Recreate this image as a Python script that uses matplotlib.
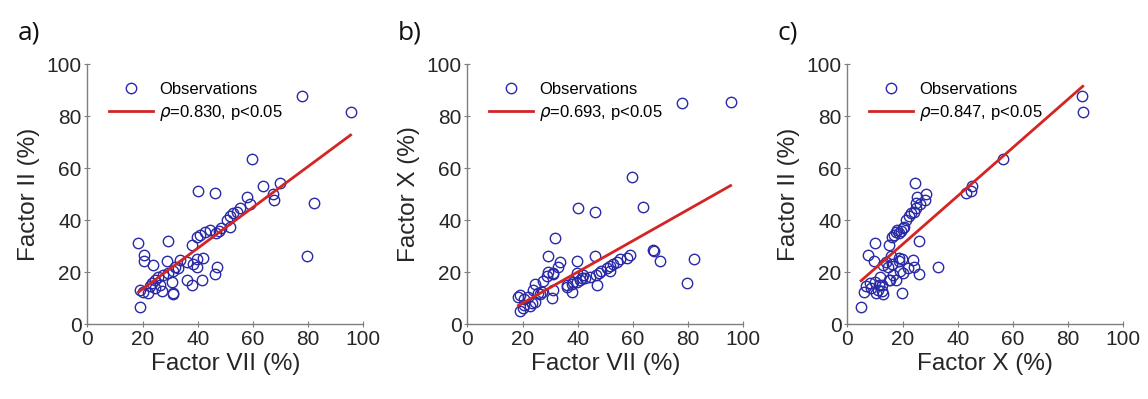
import numpy as np
import matplotlib
matplotlib.use('Agg')
import matplotlib.pyplot as plt

# clotting factor levels (%) per sample
factor_vii = [77.7, 95.4, 59.6, 40.2, 46.1, 63.8, 69.8, 67.4, 67.8, 82.2, 79.5, 57.7, 59.0, 19.1,
              55.3, 54.1, 52.9, 51.7, 50.5, 51.7, 48.5, 47.6, 46.8, 44.5, 42.7, 40.8, 39.6, 37.8,
              18.5, 19.1, 20.4, 20.4, 22.1, 23.3, 23.9, 24.5, 24.5, 25.7, 26.3, 27.0, 27.5, 28.8,
              29.3, 29.4, 30.6, 31.2, 31.2, 33.0, 33.6, 31.8, 36.0, 36.0, 37.8, 39.6, 39.6, 41.4,
              46.3, 38.4, 42.0, 46.9, 31.0, 20.0, 22.6]
factor_ii = [87.7, 81.7, 63.5, 51.3, 50.3, 53.0, 54.3, 50.0, 47.7, 46.4, 26.2, 49.0, 46.2, 6.5,
             44.5, 43.2, 42.6, 41.5, 40.0, 37.4, 36.8, 35.6, 35.0, 36.2, 35.5, 34.2, 33.3, 30.4,
             31.3, 13.1, 26.5, 24.3, 11.8, 15.6, 22.7, 16.9, 13.7, 18.2, 15.0, 12.8, 18.8, 24.3,
             19.7, 32.0, 16.3, 20.5, 11.5, 21.4, 24.6, 21.8, 24.0, 16.9, 15.0, 24.9, 21.8, 16.9,
             19.2, 23.0, 25.5, 22.0, 11.8, 12.4, 14.5]
factor_x = [84.9, 85.3, 56.5, 44.8, 43.0, 45.0, 24.4, 28.6, 28.2, 25.0, 15.9, 25.4, 26.4, 5.0,
            24.9, 24.0, 23.2, 22.5, 21.4, 20.5, 20.2, 19.5, 18.8, 18.0, 17.6, 16.8, 16.3, 15.2,
            10.2, 11.2, 7.4, 9.8, 10.4, 8.2, 13.1, 15.4, 8.6, 12.0, 11.5, 12.5, 16.5, 18.6,
            20.0, 26.0, 9.9, 19.2, 13.1, 22.0, 23.8, 33.0, 14.2, 15.0, 12.4, 19.7, 24.3, 17.6,
            26.0, 16.3, 18.8, 14.9, 19.8, 6.2, 6.8]

# regression lines (slope, intercept) and correlation labels
fit_slope = [0.786, 0.600, 0.931]
fit_intercept = [-2.3, -4.0, 12.0]
rho = ['0.830', '0.693', '0.847']
panel_tags = ['a)', 'b)', 'c)']
x_labels = ['Factor VII (%)', 'Factor VII (%)', 'Factor X (%)']
y_labels = ['Factor II (%)', 'Factor X (%)', 'Factor II (%)']

plt.rcParams['font.family'] = ['Liberation Sans', 'DejaVu Sans']
plt.rcParams['mathtext.fontset'] = 'dejavusans'

xs = [factor_vii, factor_vii, factor_x]
ys = [factor_ii, factor_x, factor_ii]

fig = plt.figure(figsize=(11.48, 3.99), dpi=100)
lefts = [87.3, 467.3, 847.3]
for i in range(3):
    ax = fig.add_axes([lefts[i] / 1148, 75 / 399, 276 / 1148, 260 / 399])
    x = np.array(xs[i])
    y = np.array(ys[i])
    ax.plot(x, y, 'o', ms=7.5, mfc='none', mec='#2a2aa6', mew=1.0, label='Observations')
    xl = np.array([x.min(), x.max()])
    ax.plot(xl, fit_slope[i] * xl + fit_intercept[i], color='#d42424', lw=2,
            label=r'$\rho$=' + rho[i] + ', p<0.05')
    ax.set_xlim(0, 100)
    ax.set_ylim(0, 100)
    ax.set_xticks(np.arange(0, 101, 20))
    ax.set_yticks(np.arange(0, 101, 20))
    for s in ['top', 'right']:
        ax.spines[s].set_visible(False)
    for s in ['left', 'bottom']:
        ax.spines[s].set_color('#7f7f7f')
        ax.spines[s].set_linewidth(1)
    ax.tick_params(direction='inout', length=4, width=0.8, color='#7f7f7f',
                   labelsize=15, labelcolor='#262626', pad=2)
    ax.set_xlabel(x_labels[i], fontsize=17.5, color='#262626', labelpad=3)
    ax.set_ylabel(y_labels[i], fontsize=17.5, color='#262626', labelpad=5)
    ax.legend(loc='upper left', bbox_to_anchor=(0.079, 0.93), frameon=False,
              fontsize=12, borderpad=0, borderaxespad=0, handlelength=2.65,
              handletextpad=0.35, labelspacing=0.35)
    fig.text((lefts[i] - 70) / 1148, 0.90, panel_tags[i], fontsize=19,
             family='Open Sans', color='#111111')

plt.savefig('out.png', dpi=100)
